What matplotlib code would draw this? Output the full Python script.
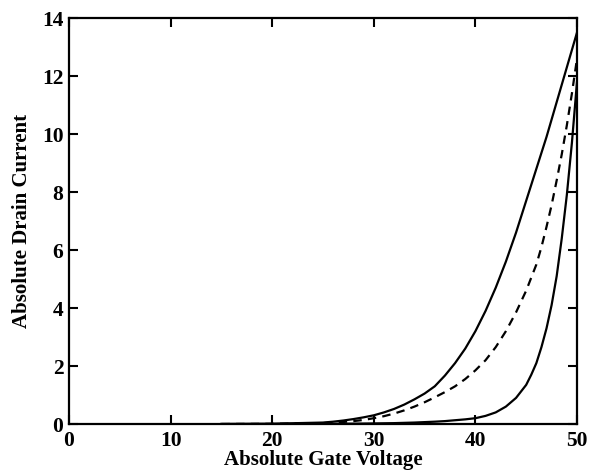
import matplotlib
matplotlib.use("Agg")
import matplotlib.pyplot as plt

gate_voltage = [15, 20, 25, 26, 27, 28, 29, 30, 31, 32, 33, 34, 35, 36, 37, 38, 39, 40,
                41, 42, 43, 44, 45, 45.5, 46, 46.5, 47, 47.5, 48, 48.5, 49, 49.5, 50]
current_upper = [0.0, 0.01, 0.05, 0.08, 0.12, 0.17, 0.23, 0.3, 0.4, 0.52, 0.67, 0.85, 1.05, 1.3, 1.67, 2.1, 2.6, 3.2,
                 3.9, 4.7, 5.6, 6.6, 7.7, 8.25, 8.8, 9.35, 9.9, 10.5, 11.1, 11.7, 12.3, 12.9, 13.5]
current_mid = [0.0, 0.005, 0.03, 0.05, 0.07, 0.1, 0.14, 0.2, 0.27, 0.36, 0.47, 0.6, 0.75, 0.92, 1.1, 1.3, 1.55, 1.85,
               2.2, 2.65, 3.2, 3.85, 4.6, 5.05, 5.5, 6.1, 6.8, 7.55, 8.4, 9.3, 10.3, 11.4, 12.6]
current_lower = [0.0, 0.0, 0.005, 0.007, 0.01, 0.013, 0.016, 0.02, 0.025, 0.03, 0.04, 0.05, 0.065, 0.08, 0.1, 0.13, 0.16, 0.2,
                 0.28, 0.4, 0.6, 0.9, 1.35, 1.7, 2.1, 2.65, 3.3, 4.1, 5.1, 6.4, 7.9, 9.7, 11.8]

xticks = [0, 10, 20, 30, 40, 50]
yticks = [0, 2, 4, 6, 8, 10, 12, 14]

plt.rcParams['font.family'] = ['Liberation Serif', 'DejaVu Serif']
plt.rcParams['font.weight'] = 'bold'

fig = plt.figure(figsize=(5.97, 4.73), dpi=100)
ax = fig.add_axes([69/597, 49/473, (577-69)/597, (424-18)/473])

ax.plot(gate_voltage, current_upper, color='black', lw=1.6)
ax.plot(gate_voltage, current_mid, color='black', lw=1.6, ls=(0, (3.8, 2.8)))
ax.plot(gate_voltage, current_lower, color='black', lw=1.6)

ax.set_xlim(0, 50)
ax.set_ylim(0, 14)
ax.set_xticks(xticks)
ax.set_yticks(yticks)
ax.set_xticklabels([str(t) for t in xticks], fontsize=15.5, fontweight='bold')
ax.set_yticklabels([str(t) for t in yticks], fontsize=15.5, fontweight='bold')
ax.tick_params(direction='in', length=6.5, width=1.5, top=True, right=True, pad=4)
ax.tick_params(axis='x', pad=5)
for s in ax.spines.values():
    s.set_linewidth(1.6)

ax.set_xlabel('Absolute Gate Voltage', fontsize=15, fontweight='bold', labelpad=-1)
ax.set_ylabel('Absolute Drain Current', fontsize=15, fontweight='bold', labelpad=7)

fig.savefig('out.png', dpi=100)
